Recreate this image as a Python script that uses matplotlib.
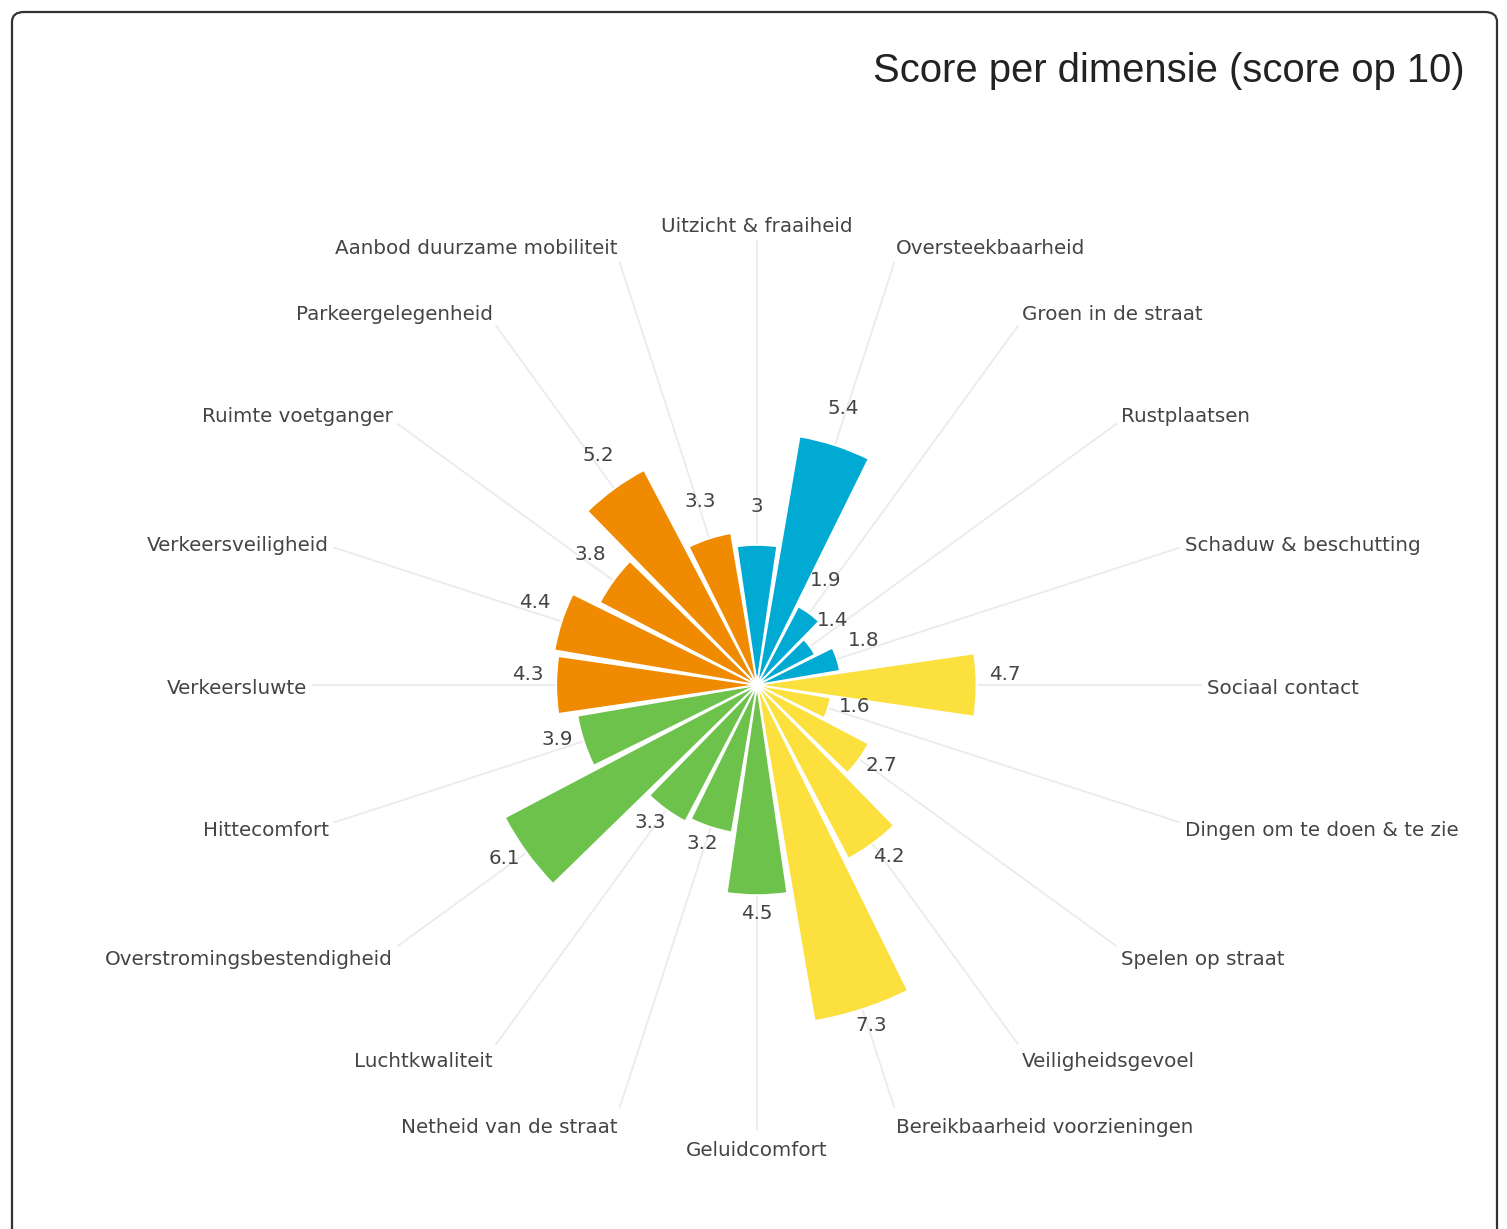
import numpy as np
import matplotlib
matplotlib.use("Agg")
import matplotlib.pyplot as plt
from matplotlib.patches import FancyBboxPatch

categories = [
    "Uitzicht & fraaiheid", "Oversteekbaarheid", "Groen in de straat", "Rustplaatsen",
    "Schaduw & beschutting", "Sociaal contact", "Dingen om te doen & te zie",
    "Spelen op straat", "Veiligheidsgevoel", "Bereikbaarheid voorzieningen",
    "Geluidcomfort", "Netheid van de straat", "Luchtkwaliteit",
    "Overstromingsbestendigheid", "Hittecomfort", "Verkeersluwte",
    "Verkeersveiligheid", "Ruimte voetganger", "Parkeergelegenheid",
    "Aanbod duurzame mobiliteit",
]
scores = [3, 5.4, 1.9, 1.4, 1.8, 4.7, 1.6, 2.7, 4.2, 7.3,
          4.5, 3.2, 3.3, 6.1, 3.9, 4.3, 4.4, 3.8, 5.2, 3.3]
groups = ["blue"] * 5 + ["yellow"] * 5 + ["green"] * 5 + ["orange"] * 5
group_colors = {"blue": "#00AAD2", "yellow": "#FBE03E",
                "green": "#6DC24C", "orange": "#F08A00"}
title = "Score per dimensie (score op 10)"

W, H, DPI = 1507, 1229, 100
fig = plt.figure(figsize=(W / DPI, H / DPI), dpi=DPI)
fig.patch.set_facecolor("white")

# rounded frame (open at bottom, extends below the figure)
frame = FancyBboxPatch((12 / W, -40 / H), (1497 - 12) / W, (1229 - 12 + 40) / H,
                       boxstyle="round,pad=0,rounding_size=0.008",
                       transform=fig.transFigure, fill=False,
                       edgecolor="#333333", linewidth=1.6, zorder=0)
fig.patches.append(frame)

cx, cy = 757, 685
R = 445
rmax = 9.53
ax = fig.add_axes([(cx - R) / W, (H - cy - R) / H, 2 * R / W, 2 * R / H],
                  projection="polar")
ax.set_theta_zero_location("N")
ax.set_theta_direction(-1)
ax.set_ylim(0, rmax)
ax.set_facecolor("none")
ax.spines["polar"].set_visible(False)
ax.set_yticks([])
ax.set_xticks([])
ax.grid(False)

n = len(categories)
theta = np.deg2rad(np.arange(n) * 360.0 / n)
width = np.deg2rad(360.0 / n * 0.92)

# angular grid lines
for t in theta:
    ax.plot([t, t], [0, rmax], color="#ebebeb", linewidth=1.3, zorder=0.5)

cols = [group_colors[g] for g in groups]
ax.bar(theta, scores, width=width, color=cols, edgecolor="white",
       linewidth=1.3, zorder=2)

txt_color = "#444444"
fs = 14.3
# value labels
for t, v in zip(theta, scores):
    ang = np.pi / 2 - t  # math angle
    off = 28
    dx = off * np.cos(ang)
    dy = off * np.sin(ang) + 10
    lab = ("%g" % v)
    ax.annotate(lab, xy=(t, v), xytext=(dx, dy), textcoords="offset pixels",
                ha="center", va="center", fontsize=fs, color=txt_color,
                family="DejaVu Sans", annotation_clip=False, zorder=3)

# category labels
for t, c in zip(theta, categories):
    ang = np.pi / 2 - t
    ca, sa = np.cos(ang), np.sin(ang)
    pad = 5
    if ca > 0.05:
        ha = "left"
    elif ca < -0.05:
        ha = "right"
    else:
        ha = "center"
    dx = pad * ca
    dy = pad * sa + 12 * sa - 3
    ax.annotate(c, xy=(t, rmax), xytext=(dx, dy), textcoords="offset pixels",
                ha=ha, va="center", fontsize=fs, color=txt_color,
                family="DejaVu Sans", annotation_clip=False, zorder=3)

fig.text(1465 / W, 1 - 71 / H, title, ha="right", va="center",
         fontsize=28.8, color="#222222", family="Liberation Sans")

fig.savefig("out.png", dpi=DPI)
